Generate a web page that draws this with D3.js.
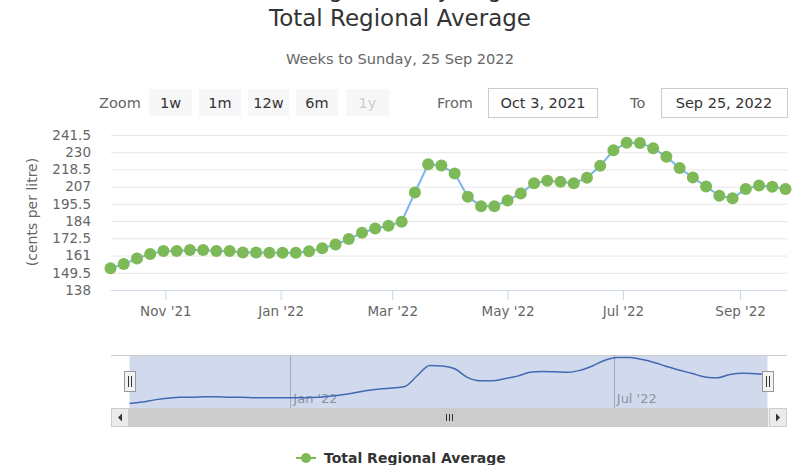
<!DOCTYPE html>
<html>
<head>
<meta charset="utf-8">
<script src="https://cdn.jsdelivr.net/npm/d3@7"></script>
<style>
    body { margin: 0; background: #fff; }
    #chart { width: 800px; height: 465px; }
    text { font-family: "DejaVu Sans", sans-serif; }
</style>
</head>
<body>
<div id="chart"></div>
<script>

// weekly prices, cents per litre (weeks to Sunday)
const startWeek = new Date(2021, 9, 3);
const endWeek = new Date(2022, 8, 25);

const prices = [
    152.5, 155.3, 159.1, 162.0, 164.0, 164.0, 164.7, 164.7, 164.0, 164.0,
    163.1, 163.1, 162.9, 162.9, 162.9, 163.8, 165.8, 168.4, 172.0, 176.2,
    179.1, 180.9, 183.6, 203.1, 222.0, 221.1, 215.8, 200.2, 194.0, 194.0,
    197.8, 202.4, 209.3, 210.9, 210.2, 209.3, 212.9, 220.9, 231.3, 236.4,
    236.2, 232.7, 226.9, 219.5, 213.1, 207.1, 200.9, 199.3, 205.5, 207.8,
    206.9, 205.5
];

const yTicks = [138, 149.5, 161, 172.5, 184, 195.5, 207, 218.5, 230, 241.5];
const xTicks = [new Date(2021, 10, 1), new Date(2022, 0, 1), new Date(2022, 2, 1),
    new Date(2022, 4, 1), new Date(2022, 6, 1), new Date(2022, 8, 1)];
const navTicks = [new Date(2022, 0, 1), new Date(2022, 6, 1)];

const zoomButtons = ["1w", "1m", "12w", "6m", "1y"];

class PriceChartVis
{
    constructor(parentElement, data)
    {
        this.parentElement = parentElement;
        this.data = data;
        this.initVis();
    }

    initVis()
    {
        let vis = this;
        vis.width = 800;
        vis.height = 465;

        vis.svg = d3.select(vis.parentElement)
            .append("svg")
            .attr("width", vis.width)
            .attr("height", vis.height);

        vis.svg.append("rect")
            .attr("width", vis.width)
            .attr("height", vis.height)
            .attr("fill", "#fff");

        // titles (first title line is cut off at the top, only descenders show)
        vis.svg.append("text")
            .attr("x", 400).attr("y", -3)
            .attr("text-anchor", "middle")
            .attr("font-size", 23)
            .attr("fill", "#333")
            .text("Average ULP, by Region");

        vis.svg.append("text")
            .attr("x", 400).attr("y", 26)
            .attr("text-anchor", "middle")
            .attr("font-size", 23)
            .attr("fill", "#333")
            .text("Total Regional Average");

        vis.svg.append("text")
            .attr("x", 400).attr("y", 64)
            .attr("text-anchor", "middle")
            .attr("font-size", 14.6)
            .attr("fill", "#666")
            .text("Weeks to Sunday, 25 Sep 2022");

        vis.drawRangeSelector();

        // scales
        vis.xScale = d3.scaleTime()
            .domain([startWeek, endWeek])
            .range([110.5, 785.5]);

        vis.yScale = d3.scaleLinear()
            .domain([138, 241.5])
            .range([290, 135]);

        vis.drawMain();
        vis.drawNavigator();
        vis.drawLegend();
    }

    drawRangeSelector()
    {
        let vis = this;
        let g = vis.svg.append("g").attr("class", "range-selector");

        g.append("text")
            .attr("x", 99).attr("y", 108)
            .attr("font-size", 14.5)
            .attr("fill", "#666")
            .text("Zoom");

        let btnX = [149, 199, 248, 296, 346];
        let btnW = [43, 42, 41, 42, 43];

        zoomButtons.forEach((b, i) => {
            g.append("rect")
                .attr("x", btnX[i]).attr("y", 89)
                .attr("width", btnW[i]).attr("height", 27)
                .attr("fill", "#f7f7f7");
            g.append("text")
                .attr("x", btnX[i] + btnW[i] / 2).attr("y", 108)
                .attr("text-anchor", "middle")
                .attr("font-size", 14.5)
                .attr("fill", b === "1y" ? "#ccc" : "#333")
                .text(b);
        });

        g.append("text")
            .attr("x", 437).attr("y", 108)
            .attr("font-size", 14.5)
            .attr("fill", "#666")
            .text("From");

        g.append("rect")
            .attr("x", 488.5).attr("y", 88.5)
            .attr("width", 109).attr("height", 29)
            .attr("fill", "#fff").attr("stroke", "#ccc");

        g.append("text")
            .attr("x", 543).attr("y", 108)
            .attr("text-anchor", "middle")
            .attr("font-size", 14.5)
            .attr("fill", "#333")
            .text("Oct 3, 2021");

        g.append("text")
            .attr("x", 630).attr("y", 108)
            .attr("font-size", 14.5)
            .attr("fill", "#666")
            .text("To");

        g.append("rect")
            .attr("x", 661.5).attr("y", 88.5)
            .attr("width", 126).attr("height", 29)
            .attr("fill", "#fff").attr("stroke", "#ccc");

        g.append("text")
            .attr("x", 724).attr("y", 108)
            .attr("text-anchor", "middle")
            .attr("font-size", 14.5)
            .attr("fill", "#333")
            .text("Sep 25, 2022");
    }

    drawMain()
    {
        let vis = this;

        // gridlines + y labels
        vis.yAxis = d3.axisLeft(vis.yScale)
            .tickValues(yTicks)
            .tickSize(-676)
            .tickPadding(20)
            .tickFormat(d => d);

        let yg = vis.svg.append("g")
            .attr("class", "y-axis")
            .attr("transform", "translate(111,0)")
            .call(vis.yAxis);

        yg.select(".domain").remove();
        yg.selectAll(".tick line").attr("stroke", "#e6e6e6");
        yg.selectAll(".tick text")
            .attr("font-size", 13.5)
            .attr("fill", "#666")
            .attr("font-family", "DejaVu Sans");

        vis.svg.append("text")
            .attr("transform", "translate(37,212) rotate(-90)")
            .attr("text-anchor", "middle")
            .attr("font-size", 14)
            .attr("fill", "#666")
            .text("(cents per litre)");

        // x axis
        vis.xAxis = d3.axisBottom(vis.xScale)
            .tickValues(xTicks)
            .tickSize(10)
            .tickPadding(6)
            .tickFormat(d3.timeFormat("%b '%y"));

        let xg = vis.svg.append("g")
            .attr("class", "x-axis")
            .attr("transform", "translate(0,290)")
            .call(vis.xAxis);

        xg.select(".domain")
            .attr("d", "M111,0.5H787")
            .attr("stroke", "#ccd6eb");
        xg.selectAll(".tick line").attr("stroke", "#ccd6eb");
        xg.selectAll(".tick text")
            .attr("font-size", 13.5)
            .attr("fill", "#666")
            .attr("font-family", "DejaVu Sans");

        // series
        let line = d3.line()
            .x(d => vis.xScale(d.date))
            .y(d => vis.yScale(d.value));

        vis.svg.append("path")
            .datum(vis.data)
            .attr("d", line)
            .attr("fill", "none")
            .attr("stroke", "#7cb5ec")
            .attr("stroke-width", 2);

        vis.svg.selectAll(".marker")
            .data(vis.data)
            .enter()
            .append("circle")
            .attr("class", "marker")
            .attr("cx", d => vis.xScale(d.date))
            .attr("cy", d => vis.yScale(d.value))
            .attr("r", 6)
            .attr("fill", "#7db957");
    }

    drawNavigator()
    {
        let vis = this;
        let top = 355, bottom = 408;

        vis.navX = d3.scaleTime()
            .domain([startWeek, endWeek])
            .range([129.5, 767.5]);

        vis.navY = d3.scaleLinear()
            .domain(d3.extent(vis.data, d => d.value))
            .range([403.5, 357.5]);

        let nav = vis.svg.append("g").attr("class", "navigator");

        nav.append("line")
            .attr("x1", 111).attr("x2", 787)
            .attr("y1", top + 0.5).attr("y2", top + 0.5)
            .attr("stroke", "#ccc");

        nav.selectAll(".nav-grid")
            .data(navTicks)
            .enter()
            .append("line")
            .attr("class", "nav-grid")
            .attr("x1", d => Math.round(vis.navX(d)) + 0.5)
            .attr("x2", d => Math.round(vis.navX(d)) + 0.5)
            .attr("y1", top).attr("y2", bottom)
            .attr("stroke", "#bbb");

        nav.selectAll(".nav-label")
            .data(navTicks)
            .enter()
            .append("text")
            .attr("class", "nav-label")
            .attr("x", d => vis.navX(d) + 3)
            .attr("y", 403)
            .attr("font-size", 13)
            .attr("fill", "#999")
            .text(d3.timeFormat("%b '%y"));

        let navLine = d3.line()
            .curve(d3.curveMonotoneX)
            .x(d => vis.navX(d.date))
            .y(d => vis.navY(d.value));

        nav.append("path")
            .datum(vis.data)
            .attr("d", navLine)
            .attr("fill", "none")
            .attr("stroke", "#335cad")
            .attr("stroke-width", 1.5);

        // selected range mask
        nav.append("rect")
            .attr("x", vis.navX.range()[0]).attr("y", top + 1)
            .attr("width", vis.navX.range()[1] - vis.navX.range()[0])
            .attr("height", bottom - top - 1)
            .attr("fill", "rgba(102,133,194,0.3)");

        // handles
        vis.navX.range().forEach(x => {
            let hx = Math.round(x) - 5.5;
            nav.append("rect")
                .attr("x", hx).attr("y", 371.5)
                .attr("width", 11).attr("height", 20)
                .attr("fill", "#f2f2f2").attr("stroke", "#999");
            [-1.5, 1.5].forEach(dx => {
                nav.append("line")
                    .attr("x1", hx + 5.5 + dx).attr("x2", hx + 5.5 + dx)
                    .attr("y1", 376).attr("y2", 387)
                    .attr("stroke", "#333");
            });
        });

        // scrollbar
        let sb = vis.svg.append("g").attr("class", "scrollbar");
        sb.append("rect")
            .attr("x", 111).attr("y", 408)
            .attr("width", 676).attr("height", 19)
            .attr("fill", "#f2f2f2");

        sb.append("rect")
            .attr("x", 129).attr("y", 408)
            .attr("width", 639).attr("height", 19)
            .attr("fill", "#cccccc");

        [0, 1, 2].forEach(i => {
            sb.append("line")
                .attr("x1", 446.5 + i * 3).attr("x2", 446.5 + i * 3)
                .attr("y1", 414).attr("y2", 421)
                .attr("stroke", "#333");
        });

        [[111.5, -1], [769.5, 1]].forEach(([bx, dir]) => {
            sb.append("rect")
                .attr("x", bx).attr("y", 408.5)
                .attr("width", 17).attr("height", 18)
                .attr("fill", "#ebebeb").attr("stroke", "#ccc");
            let cx = bx + 8.5, cy = 417.5;
            // tip points outward
            sb.append("path")
                .attr("d", `M${cx + 2 * dir},${cy} L${cx - 2 * dir},${cy - 4} L${cx - 2 * dir},${cy + 4} Z`)
                .attr("fill", "#333");
        });
    }

    drawLegend()
    {
        let vis = this;
        let lg = vis.svg.append("g").attr("class", "legend");

        lg.append("line")
            .attr("x1", 296).attr("x2", 316)
            .attr("y1", 458).attr("y2", 458)
            .attr("stroke", "#7db957")
            .attr("stroke-width", 2);

        lg.append("circle")
            .attr("cx", 306).attr("cy", 458)
            .attr("r", 5)
            .attr("fill", "#7db957");

        lg.append("text")
            .attr("x", 324).attr("y", 463)
            .attr("font-size", 14)
            .attr("font-weight", "bold")
            .attr("fill", "#333")
            .text("Total Regional Average");
    }
}

let weeks = d3.timeWeek.range(startWeek, d3.timeDay.offset(endWeek, 1));
let weeklyData = weeks.map((d, i) => ({date: d, value: prices[i]}));

new PriceChartVis(document.getElementById("chart"), weeklyData);

</script>
</body>
</html>
